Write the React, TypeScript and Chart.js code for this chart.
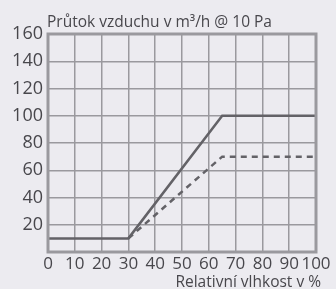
import React, { useEffect, useRef } from "react";
import { Chart, registerables } from "chart.js";

Chart.register(...registerables);

const xTicks = [0, 10, 20, 30, 40, 50, 60, 70, 80, 90, 100];
const yTicks = [20, 40, 60, 80, 100, 120, 140, 160];
const solidX = [0, 30, 65, 100];
const solidY = [10, 10, 100, 100];
const dashedX = [30, 65, 100];
const dashedY = [10, 70, 70];
const titleText = "Průtok vzduchu v m³/h @ 10 Pa";
const xTitleText = "Relativní vlhkost v %";

const FONT = "'Open Sans', 'Noto Sans', sans-serif";
const GRID = "#9a999e";
const LINE = "#636267";
const TEXT = "#48474c";
const BG = "#ecebf0";

export default function App() {
  const ref = useRef<HTMLCanvasElement>(null);
  useEffect(() => {
    document.body.style.margin = "0";
    const frame = {
      id: "frame",
      beforeDraw(chart: any) {
        const c = chart.ctx;
        c.save();
        c.fillStyle = BG;
        c.fillRect(0, 0, chart.width, chart.height);
        c.restore();
      },
      afterDatasetsDraw(chart: any) {
        const { ctx: c, chartArea: a } = chart;
        c.save();
        c.strokeStyle = GRID;
        c.lineWidth = 3;
        c.strokeRect(a.left, a.top, a.right - a.left, a.bottom - a.top);
        c.fillStyle = TEXT;
        c.font = `15.5px ${FONT}`;
        c.textAlign = "left";
        c.textBaseline = "alphabetic";
        c.fillText(titleText, a.left - 1, 27);
        c.textAlign = "right";
        c.fillText(xTitleText, 321, 287);
        c.restore();
      },
    };
    const chart = new Chart(ref.current!, {
      type: "line",
      data: {
        datasets: [
          {
            data: solidX.map((x, i) => ({ x, y: solidY[i] })),
            borderColor: LINE,
            borderWidth: 2.5,
            pointRadius: 0,
            tension: 0,
          },
          {
            data: dashedX.map((x, i) => ({ x, y: dashedY[i] })),
            borderColor: LINE,
            borderWidth: 2.5,
            borderDash: [6, 5],
            pointRadius: 0,
            tension: 0,
          },
        ],
      },
      options: {
        animation: false,
        responsive: false,
        layout: { padding: { left: 0, right: 20, top: 34, bottom: 0 } },
        plugins: { legend: { display: false }, title: { display: false }, tooltip: { enabled: false } },
        scales: {
          x: {
            type: "linear",
            min: 0,
            max: 100,
            afterFit: (s: any) => { s.height = 37; },
            afterBuildTicks: (s: any) => { s.ticks = xTicks.map((v) => ({ value: v })); },
            grid: { color: GRID, lineWidth: 1.5, drawTicks: false },
            border: { display: false },
            ticks: { color: TEXT, font: { family: FONT, size: 17 }, padding: 2, maxRotation: 0, autoSkip: false },
          },
          y: {
            min: 0,
            max: 160,
            afterFit: (s: any) => { s.width = 48; },
            afterBuildTicks: (s: any) => { s.ticks = [0, ...yTicks].map((v) => ({ value: v })); },
            grid: { color: GRID, lineWidth: 1.5, drawTicks: false },
            border: { display: false },
            ticks: {
              color: TEXT,
              font: { family: FONT, size: 18 },
              padding: 5,
              callback: (v: any) => (v === 0 ? "" : String(v)),
            },
          },
        },
      },
      plugins: [frame],
    });
    return () => chart.destroy();
  }, []);
  return (
    <div style={{ width: 336, height: 289 }}>
      <canvas ref={ref} width={336} height={289} />
    </div>
  );
}
